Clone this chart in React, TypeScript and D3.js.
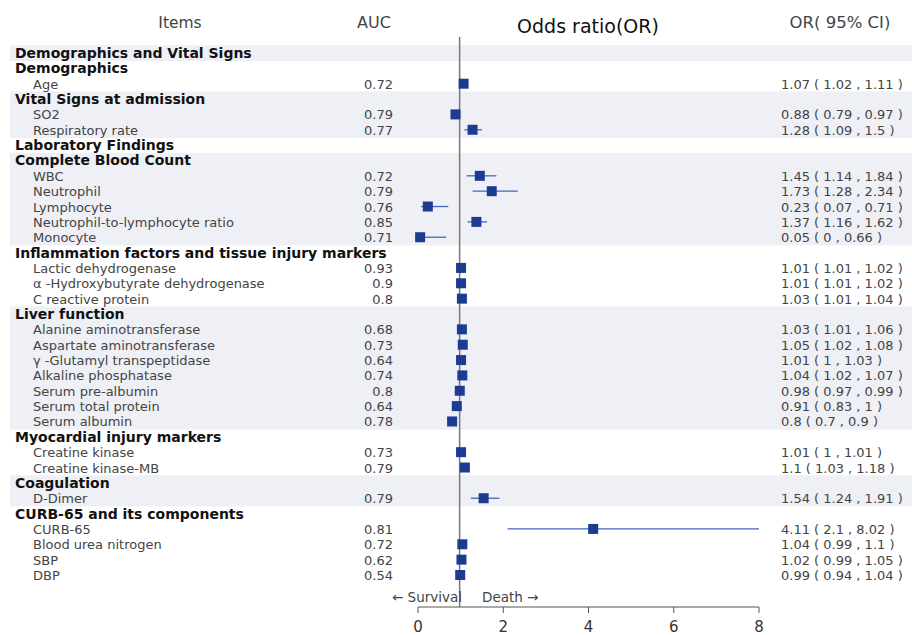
import React from "react";
import * as d3 from "d3";

const labels: string[] = [
  "Demographics and Vital Signs",
  "Demographics",
  "Age",
  "Vital Signs at admission",
  "SO2",
  "Respiratory rate",
  "Laboratory Findings",
  "Complete Blood Count",
  "WBC",
  "Neutrophil",
  "Lymphocyte",
  "Neutrophil-to-lymphocyte ratio",
  "Monocyte",
  "Inflammation factors and tissue injury markers",
  "Lactic dehydrogenase",
  "α -Hydroxybutyrate dehydrogenase",
  "C reactive protein",
  "Liver function",
  "Alanine aminotransferase",
  "Aspartate aminotransferase",
  "γ -Glutamyl transpeptidase",
  "Alkaline phosphatase",
  "Serum pre-albumin",
  "Serum total protein",
  "Serum albumin",
  "Myocardial injury markers",
  "Creatine kinase",
  "Creatine kinase-MB",
  "Coagulation",
  "D-Dimer",
  "CURB-65 and its components",
  "CURB-65",
  "Blood urea nitrogen",
  "SBP",
  "DBP",
];
const isHeader: boolean[] = [
  true, true, false, true, false, false, true, true, false, false, false, false, false,
  true, false, false, false, true, false, false, false, false, false, false, false,
  true, false, false, true, false, true, false, false, false, false,
];
const auc: (string | null)[] = [
  null, null, "0.72", null, "0.79", "0.77", null, null, "0.72", "0.79", "0.76", "0.85", "0.71",
  null, "0.93", "0.9", "0.8", null, "0.68", "0.73", "0.64", "0.74", "0.8", "0.64", "0.78",
  null, "0.73", "0.79", null, "0.79", null, "0.81", "0.72", "0.62", "0.54",
];
const orVal: (number | null)[] = [
  null, null, 1.07, null, 0.88, 1.28, null, null, 1.45, 1.73, 0.23, 1.37, 0.05,
  null, 1.01, 1.01, 1.03, null, 1.03, 1.05, 1.01, 1.04, 0.98, 0.91, 0.8,
  null, 1.01, 1.1, null, 1.54, null, 4.11, 1.04, 1.02, 0.99,
];
const lower: (number | null)[] = [
  null, null, 1.02, null, 0.79, 1.09, null, null, 1.14, 1.28, 0.07, 1.16, 0,
  null, 1.01, 1.01, 1.01, null, 1.01, 1.02, 1, 1.02, 0.97, 0.83, 0.7,
  null, 1, 1.03, null, 1.24, null, 2.1, 0.99, 0.99, 0.94,
];
const upper: (number | null)[] = [
  null, null, 1.11, null, 0.97, 1.5, null, null, 1.84, 2.34, 0.71, 1.62, 0.66,
  null, 1.02, 1.02, 1.04, null, 1.06, 1.08, 1.03, 1.07, 0.99, 1, 0.9,
  null, 1.01, 1.18, null, 1.91, null, 8.02, 1.1, 1.05, 1.04,
];
const xTicks: number[] = [0, 2, 4, 6, 8];

const FONT = "'DejaVu Sans', Verdana, sans-serif";

export default function App() {
  const width = 912;
  const height = 635;
  const x = d3.scaleLinear().domain([0, 8]).range([418, 759]);
  const y = d3.scaleLinear().domain([0, labels.length - 1]).range([53, 575]);
  const step = y(1) - y(0);

  const shade: boolean[] = [];
  let block = -1;
  labels.forEach((_, i) => {
    if (isHeader[i]) block += 1;
    shade.push(block % 2 === 0);
  });

  const fmt = (v: number) => String(v);
  const axisY = 607;

  return (
    <svg width={width} height={height} style={{ position: "absolute", left: 0, top: 0, background: "#fff" }}>
      {labels.map((_, i) =>
        shade[i] ? (
          <rect key={"s" + i} x={10} y={y(i) - step / 2} width={902} height={step + 0.5} fill="#eef0f6" />
        ) : null
      )}
      <text x={180} y={28} textAnchor="middle" fontFamily={FONT} fontSize={15.5} fill="#444">Items</text>
      <text x={374} y={28} textAnchor="middle" fontFamily={FONT} fontSize={16} fill="#444">AUC</text>
      <text x={588} y={33} textAnchor="middle" fontFamily={FONT} fontSize={19} fill="#111">Odds ratio(OR)</text>
      <text x={840} y={28} textAnchor="middle" fontFamily={FONT} fontSize={16.5} fill="#444">OR( 95% CI)</text>

      {labels.map((l, i) => (
        <text
          key={"l" + i}
          x={isHeader[i] ? 15 : 33}
          y={y(i) + 5}
          fontFamily={FONT}
          fontSize={isHeader[i] ? 14 : 13}
          fontWeight={isHeader[i] ? "bold" : "normal"}
          fill={isHeader[i] ? "#111" : "#444"}
        >
          {l}
        </text>
      ))}
      {auc.map((a, i) =>
        a ? (
          <text key={"a" + i} x={393} y={y(i) + 5} textAnchor="end" fontFamily={FONT} fontSize={13} fill="#444">
            {a}
          </text>
        ) : null
      )}
      {orVal.map((v, i) =>
        v !== null ? (
          <text key={"r" + i} x={781} y={y(i) + 5} fontFamily={FONT} fontSize={13} fill="#444">
            {`${fmt(v)} ( ${fmt(lower[i] as number)} , ${fmt(upper[i] as number)} )`}
          </text>
        ) : null
      )}

      <line x1={x(1) - 1} x2={x(1) - 1} y1={37} y2={axisY} stroke="#777" strokeWidth={1.5} />

      {orVal.map((v, i) => {
        if (v === null) return null;
        const lo = Math.max(0, lower[i] as number);
        const hi = Math.min(8, upper[i] as number);
        return (
          <g key={"m" + i}>
            <line x1={x(lo)} x2={x(hi)} y1={y(i)} y2={y(i)} stroke="#4466c0" strokeWidth={1.3} />
            <rect x={x(v) - 5} y={y(i) - 5} width={10} height={10} fill="#1c3c92" />
          </g>
        );
      })}

      <text x={462} y={602} textAnchor="end" fontFamily={FONT} fontSize={13.5} fill="#444">← Survival</text>
      <text x={482} y={602} fontFamily={FONT} fontSize={13.5} fill="#444">Death →</text>

      <line x1={x(0)} x2={x(8)} y1={axisY} y2={axisY} stroke="#555" strokeWidth={1} />
      {xTicks.map((t) => (
        <g key={"t" + t}>
          <line x1={x(t)} x2={x(t)} y1={axisY} y2={axisY + 6} stroke="#555" strokeWidth={1} />
          <text x={x(t)} y={axisY + 25} textAnchor="middle" fontFamily={FONT} fontSize={15} fill="#333">
            {t}
          </text>
        </g>
      ))}
    </svg>
  );
}
